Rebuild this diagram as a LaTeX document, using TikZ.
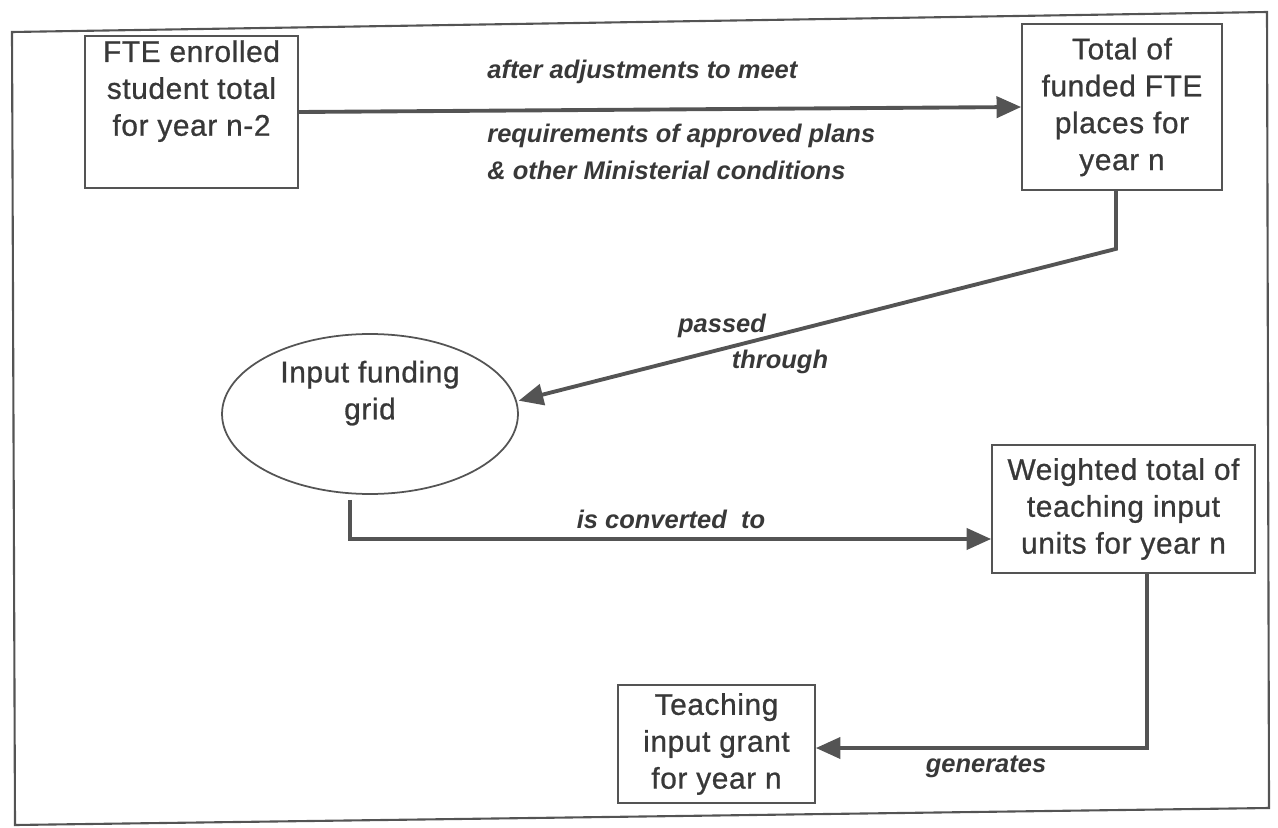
\documentclass[tikz,border=0pt]{standalone}
\usepackage{fontspec}
\setmainfont{Liberation Sans}
\newfontfamily\boxfont[FakeBold=0.8, LetterSpace=2]{Liberation Sans}
\usetikzlibrary{arrows.meta, shapes.geometric}

\definecolor{inkgray}{gray}{0.22}
\definecolor{linegray}{gray}{0.33}

\begin{document}
\begin{tikzpicture}[x=0.02cm, y=-0.02cm, >={Triangle[length=14pt, width=12pt]},
  box/.style={draw=linegray, line width=1pt, align=center, text=inkgray, font=\boxfont\fontsize{17}{21}\selectfont, inner sep=0pt},
  lbl/.style={text=inkgray, font=\fontsize{14.5}{19}\selectfont\bfseries\itshape, inner sep=0pt},
  flow/.style={draw=linegray, line width=2.2pt, ->}]

%\draw[step=100, gray!40] (0,0) grid (1278,828);
\useasboundingbox (0,0) rectangle (1278,828);

% frame (scan is a little skewed)
\draw[linegray, line width=1.2pt] (12,32) -- (1267,12) -- (1269,808) -- (15,825) -- cycle;

\node[box, minimum width=4.26cm, minimum height=3.04cm] (enrolled) at (191.5,112)
  {FTE enrolled\\student total\\for year n-2\\\strut};
\node[box, minimum width=4.0cm, minimum height=3.32cm] (funded) at (1122,107)
  {Total of\\funded FTE\\places for\\year n};
\node[box, ellipse, minimum width=5.92cm, minimum height=3.2cm] (grid) at (370,414)
  {Input funding\\grid\\\strut};
\node[box, minimum width=5.26cm, minimum height=2.56cm] (units) at (1123.5,509)
  {Weighted total of\\teaching input\\units for year n};
\node[box, minimum width=3.94cm, minimum height=2.36cm] (grant) at (716.5,744)
  {Teaching\\input grant\\for year n};

% connectors
\draw[flow] (enrolled.east) -- (funded.west);
\node[lbl, anchor=west] (adjust) at (487,72) {after adjustments to meet};
\node[lbl, anchor=west] (plans) at (487,136) {requirements of approved plans};
\node[lbl, anchor=west] (cond) at (487,170) {\& other Ministerial conditions};

\draw[flow, shorten >=1pt] ([xshift=-0.12cm]funded.south) -- ++(0,58) coordinate (bend) -- (grid.5);
\node[lbl] (passed) at (722,326) {passed};
\node[lbl] (through) at (780,362) {through};

\coordinate (down) at ([xshift=-0.4cm, yshift=-0.1cm]grid.south);
\draw[flow] (down) |- ([yshift=-0.6cm]units.west);
\node[lbl] (conv) at (671,519) {is converted\ \ to};

\draw[flow] ([xshift=0.47cm]units.south) |- ([yshift=-0.08cm]grant.east);
\node[lbl] (gen) at (986,767) {generates};

\end{tikzpicture}
\end{document}
